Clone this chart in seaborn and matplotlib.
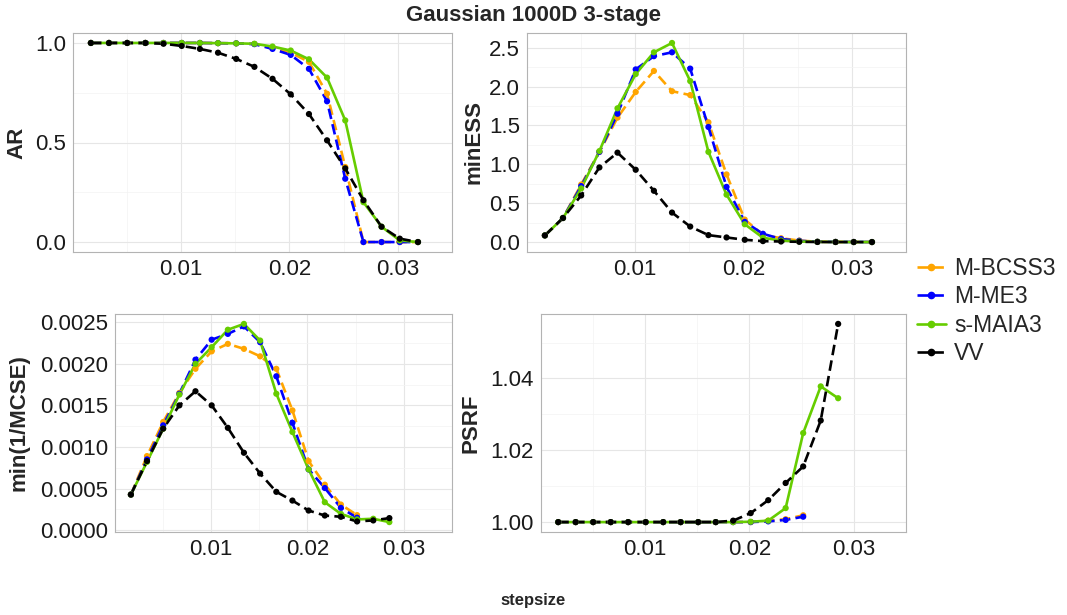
import numpy as np
import pandas as pd
import matplotlib
matplotlib.use("Agg")
import matplotlib.pyplot as plt
import seaborn as sns
from matplotlib.lines import Line2D
from matplotlib.ticker import MultipleLocator, FormatStrFormatter

sns.set_style("white")
plt.rcParams["font.family"] = ["Liberation Sans", "DejaVu Sans"]

methods = ["M-BCSS3", "M-ME3", "s-MAIA3", "VV"]
palette = {"M-BCSS3": "#FFA500", "M-ME3": "#0000FF", "s-MAIA3": "#66CD00", "VV": "#000000"}
dash_map = {"M-BCSS3": (4, 2), "M-ME3": (4, 2), "s-MAIA3": "", "VV": (4, 2)}

stepsize = [0.00168, 0.00335, 0.00503, 0.00671, 0.00838, 0.01006, 0.01174, 0.01341,
            0.01509, 0.01677, 0.01844, 0.02012, 0.02180, 0.02347, 0.02515, 0.02683,
            0.02850, 0.03018, 0.03186]

# AR
ar_bcss = [1, 1, 1, 1, 1, 1, 1, 0.999, 0.998, 0.995, 0.975, 0.951, 0.905, 0.745, 0.377, 0, 0, 0, 0]
ar_me3 = [1, 1, 1, 1, 1, 1, 1, 0.999, 0.998, 0.994, 0.970, 0.940, 0.870, 0.707, 0.318, 0, 0, 0, 0]
ar_maia = [1, 1, 1, 1, 1, 1, 1, 0.999, 0.998, 0.996, 0.982, 0.962, 0.918, 0.826, 0.611, 0.200, 0.077, 0.008, 0]
ar_vv = [1, 1, 1, 1, 0.996, 0.985, 0.970, 0.951, 0.920, 0.880, 0.820, 0.742, 0.643, 0.511, 0.370, 0.210, 0.077, 0.017, 0]

# minESS
ess_bcss = [0.086, 0.31, 0.74, 1.16, 1.60, 1.93, 2.20, 1.94, 1.89, 1.54, 0.87, 0.29, 0.094, 0.05, 0.02, 0.005, 0.003, 0.002, 0.001]
ess_me3 = [0.086, 0.31, 0.72, 1.16, 1.65, 2.22, 2.39, 2.44, 2.23, 1.48, 0.71, 0.26, 0.107, 0.04, 0.017, 0.005, 0.003, 0.002, 0.001]
ess_maia = [0.086, 0.31, 0.69, 1.17, 1.72, 2.16, 2.44, 2.56, 2.07, 1.16, 0.61, 0.23, 0.056, 0.02, 0.008, 0.004, 0.002, 0.001, 0.001]
ess_vv = [0.086, 0.31, 0.60, 0.96, 1.15, 0.93, 0.66, 0.38, 0.20, 0.09, 0.06, 0.03, 0.013, 0.008, 0.004, 0.002, 0.001, 0.001, 0.001]

# min(1/MCSE)
mcse_bcss = [0.000427, 0.00089, 0.00130, 0.00165, 0.00194, 0.00215, 0.00224, 0.00218, 0.00209,
             0.00194, 0.00144, 0.00083, 0.000546, 0.000307, 0.00018]
mcse_me3 = [0.000427, 0.00085, 0.00126, 0.00164, 0.00205, 0.00229, 0.00236, 0.00245, 0.00226,
            0.00185, 0.00129, 0.00073, 0.000506, 0.000267, 0.000148]
mcse_maia = [0.000427, 0.00082, 0.00122, 0.00163, 0.00200, 0.00220, 0.00241, 0.00248, 0.00228,
             0.00164, 0.00118, 0.00073, 0.000335, 0.000195, 0.000128, 0.000136, 0.000096]
mcse_vv = [0.000427, 0.00083, 0.00122, 0.00150, 0.00167, 0.00150, 0.00123, 0.00093, 0.00068,
           0.00046, 0.000355, 0.000235, 0.000175, 0.00016, 0.000104, 0.000116, 0.000144]

# PSRF
psrf_bcss = [1, 1, 1, 1, 1, 1, 1, 1, 1, 1, 1, 1.0000, 1.0004, 1.0008, 1.0019]
psrf_me3 = [1, 1, 1, 1, 1, 1, 1, 1, 1, 1, 1, 1.0000, 1.0002, 1.0006, 1.0015]
psrf_maia = [1, 1, 1, 1, 1, 1, 1, 1, 1, 1, 1, 1.0001, 1.0004, 1.0039, 1.0248, 1.0378, 1.0345]
psrf_vv = [1, 1, 1, 1, 1, 1, 1, 1, 1, 1, 1.0004, 1.0025, 1.0061, 1.0109, 1.0155, 1.0283, 1.0552]


def long_df(series):
    rows = []
    for m, vals in zip(methods, series):
        for x, v in zip(stepsize, vals):
            rows.append((x, v, m))
    return pd.DataFrame(rows, columns=["stepsize", "value", "method"])


panels = [
    ("AR", [ar_bcss, ar_me3, ar_maia, ar_vv], 0.5, 0.25, "%.1f"),
    ("minESS", [ess_bcss, ess_me3, ess_maia, ess_vv], 0.5, 0.25, "%.1f"),
    ("min(1/MCSE)", [mcse_bcss, mcse_me3, mcse_maia, mcse_vv], 0.0005, 0.00025, "%.4f"),
    ("PSRF", [psrf_bcss, psrf_me3, psrf_maia, psrf_vv], 0.02, 0.01, "%.2f"),
]

W, H = 1067, 615
boxes = [(73, 33, 452, 252), (527, 33, 906, 252), (115, 314, 452, 532), (541, 314, 906, 532)]
label_x = [17, 474, 19, 471]

fig = plt.figure(figsize=(W / 100, H / 100), dpi=100)

for (name, series, maj, mnr, fmt), (l, t, r, b), lx in zip(panels, boxes, label_x):
    ax = fig.add_axes([l / W, 1 - b / H, (r - l) / W, (b - t) / H])
    d = long_df(series)
    sns.lineplot(data=d, x="stepsize", y="value", hue="method", style="method",
                 palette=palette, dashes=dash_map, hue_order=methods, style_order=methods,
                 estimator=None, sort=False, lw=1.9, legend=False, ax=ax, zorder=2)
    sns.scatterplot(data=d, x="stepsize", y="value", hue="method", palette=palette,
                    hue_order=methods, s=20, linewidth=0, legend=False, ax=ax, zorder=3)
    ax.set_xlim(0.00003, 0.035)
    ax.xaxis.set_major_locator(MultipleLocator(0.01))
    ax.xaxis.set_minor_locator(MultipleLocator(0.005))
    ax.xaxis.set_major_formatter(FormatStrFormatter("%.2f"))
    ax.yaxis.set_major_locator(MultipleLocator(maj))
    ax.yaxis.set_minor_locator(MultipleLocator(mnr))
    ax.yaxis.set_major_formatter(FormatStrFormatter(fmt))
    ax.grid(True, which="major", color="#E6E6E6", lw=0.8)
    ax.grid(True, which="minor", color="#F3F3F3", lw=0.5)
    ax.set_axisbelow(True)
    for s in ax.spines.values():
        s.set_color("#B3B3B3")
        s.set_linewidth(0.8)
    ax.tick_params(which="major", length=3, width=0.8, color="#B3B3B3",
                   labelsize=16, labelcolor="#1a1a1a", pad=2)
    ax.tick_params(which="minor", length=0)
    ax.set_xlabel("")
    ax.set_ylabel("")
    fig.text(lx / W, 1 - ((t + b) / 2) / H, name, rotation=90, ha="center", va="center",
             fontsize=16, fontweight="bold")

fig.text(533 / W, 1 - 15 / H, "Gaussian 1000D 3-stage", ha="center", va="center",
         fontsize=16, fontweight="bold")
fig.text(533 / W, 1 - 601 / H, "stepsize", ha="center", va="center",
         fontsize=12, fontweight="bold")

handles = [Line2D([], [], color=palette[m], lw=1.9, marker="o", markersize=4.5,
                  linestyle="-" if m == "s-MAIA3" else (0, (4, 2))) for m in methods]
fig.legend(handles, methods, loc="center left", bbox_to_anchor=(912 / W, 1 - 311 / H),
           frameon=False, fontsize=16.5, handlelength=1.3, handletextpad=0.35,
           labelspacing=0.22, numpoints=1, borderaxespad=0, borderpad=0.2)

fig.savefig("out.png", dpi=100)
